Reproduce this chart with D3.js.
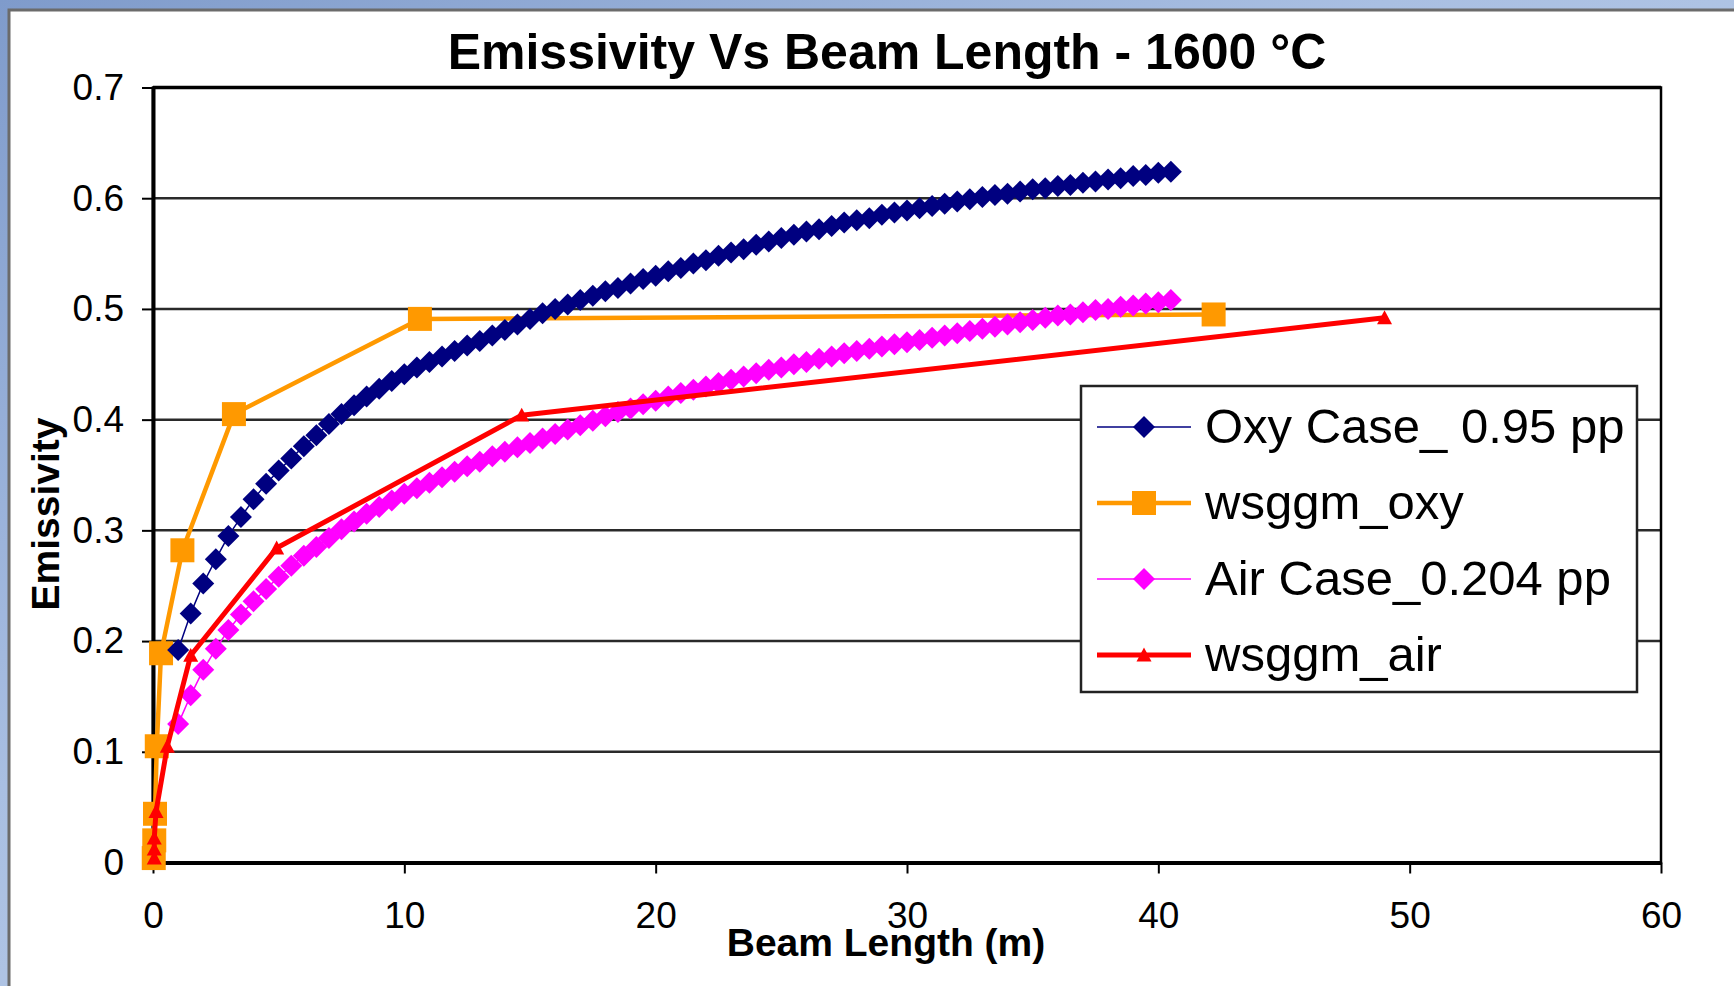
<!DOCTYPE html>
<html>
<head>
<meta charset="utf-8">
<script src="https://cdn.jsdelivr.net/npm/d3@7"></script>
<style>
  body { margin: 0; background: #fff; }
  svg { display: block; font-family: "Liberation Sans", Arial, sans-serif; }
</style>
</head>
<body>
<svg id="chart" width="1734" height="986"></svg>
<script>
// Beam length (m) sampled for the two line-by-line cases
const beamLength = [
  1, 1.5, 2, 2.5, 3, 3.5, 4, 4.5, 5, 5.5, 6, 6.5, 7, 7.5, 8, 8.5, 9, 9.5, 10, 10.5,
  11, 11.5, 12, 12.5, 13, 13.5, 14, 14.5, 15, 15.5, 16, 16.5, 17, 17.5, 18, 18.5, 19, 19.5, 20, 20.5,
  21, 21.5, 22, 22.5, 23, 23.5, 24, 24.5, 25, 25.5, 26, 26.5, 27, 27.5, 28, 28.5, 29, 29.5, 30, 30.5,
  31, 31.5, 32, 32.5, 33, 33.5, 34, 34.5, 35, 35.5, 36, 36.5, 37, 37.5, 38, 38.5, 39, 39.5, 40, 40.5
];

// Oxy Case_ 0.95 pp
const oxyCase = [
  0.192, 0.225, 0.252, 0.274, 0.295, 0.312, 0.328, 0.342, 0.354, 0.365, 0.376, 0.386, 0.396, 0.405, 0.413, 0.421, 0.428, 0.435, 0.441, 0.447,
  0.452, 0.457, 0.462, 0.467, 0.471, 0.476, 0.481, 0.486, 0.491, 0.496, 0.500, 0.504, 0.508, 0.512, 0.516, 0.519, 0.523, 0.527, 0.530, 0.534,
  0.537, 0.541, 0.544, 0.548, 0.551, 0.554, 0.558, 0.561, 0.564, 0.567, 0.570, 0.572, 0.575, 0.578, 0.580, 0.582, 0.585, 0.587, 0.589, 0.591,
  0.593, 0.595, 0.597, 0.599, 0.601, 0.603, 0.604, 0.606, 0.608, 0.609, 0.611, 0.612, 0.614, 0.615, 0.617, 0.618, 0.620, 0.621, 0.623, 0.624
];

// Air Case_0.204 pp
const airCase = [
  0.125, 0.151, 0.174, 0.193, 0.210, 0.224, 0.236, 0.247, 0.258, 0.268, 0.277, 0.285, 0.293, 0.301, 0.308, 0.315, 0.321, 0.327, 0.333, 0.338,
  0.343, 0.348, 0.353, 0.358, 0.362, 0.367, 0.371, 0.375, 0.379, 0.383, 0.387, 0.391, 0.395, 0.399, 0.403, 0.407, 0.410, 0.414, 0.417, 0.421,
  0.424, 0.427, 0.430, 0.433, 0.436, 0.439, 0.442, 0.445, 0.447, 0.450, 0.452, 0.455, 0.457, 0.460, 0.462, 0.464, 0.466, 0.468, 0.470, 0.472,
  0.474, 0.476, 0.478, 0.480, 0.482, 0.484, 0.486, 0.488, 0.490, 0.492, 0.494, 0.495, 0.497, 0.499, 0.500, 0.502, 0.503, 0.505, 0.506, 0.508
];

// WSGG model, oxy conditions
const wsggmOxyX = [0.03, 0.05, 0.08, 0.15, 0.32, 1.17, 3.22, 10.62, 42.2];
const wsggmOxyY = [0.004, 0.020, 0.044, 0.105, 0.189, 0.282, 0.405, 0.491, 0.495];

// WSGG model, air conditions
const wsggmAirX = [0.05, 0.05, 0.05, 0.12, 0.57, 1.5, 4.92, 14.67, 49.0];
const wsggmAirY = [0.004, 0.012, 0.022, 0.046, 0.105, 0.187, 0.284, 0.404, 0.492];

const xTicks = [0, 10, 20, 30, 40, 50, 60];
const yTicks = [0, 0.1, 0.2, 0.3, 0.4, 0.5, 0.6, 0.7];
const yTickLabels = ["0", "0.1", "0.2", "0.3", "0.4", "0.5", "0.6", "0.7"];

const seriesNames = ["Oxy Case_ 0.95 pp", "wsggm_oxy", "Air Case_0.204 pp", "wsggm_air"];

const W = 1734, H = 986;
const plot = { left: 153, right: 1661, top: 87.5, bottom: 862.5 };

const svg = d3.select("#chart");

// window backdrop around the white sheet
const defs = svg.append("defs");
const grad = defs.append("linearGradient").attr("id", "backdrop")
  .attr("x1", 0).attr("y1", 0).attr("x2", 1).attr("y2", 1);
grad.append("stop").attr("offset", 0).attr("stop-color", "#7f9bcb");
grad.append("stop").attr("offset", 0.4).attr("stop-color", "#a9bfe2");
grad.append("stop").attr("offset", 1).attr("stop-color", "#c9d8ee");
svg.append("rect").attr("width", W).attr("height", H).attr("fill", "url(#backdrop)");
svg.append("rect").attr("x", 9).attr("y", 10).attr("width", W).attr("height", H)
  .attr("fill", "#fff").attr("stroke", "#6b6b6b").attr("stroke-width", 3);

const x = d3.scaleLinear().domain([0, 60]).range([plot.left, plot.right]);
const y = d3.scaleLinear().domain([0, 0.7]).range([plot.bottom, plot.top]);

// horizontal gridlines
svg.append("g").selectAll("line").data(yTicks.slice(1, -1)).join("line")
  .attr("x1", plot.left).attr("x2", plot.right)
  .attr("y1", d => y(d)).attr("y2", d => y(d))
  .attr("stroke", "#2a2a2a").attr("stroke-width", 2.5);

// plot frame
svg.append("rect")
  .attr("x", plot.left).attr("y", plot.top)
  .attr("width", plot.right - plot.left).attr("height", plot.bottom - plot.top)
  .attr("fill", "none").attr("stroke", "#000").attr("stroke-width", 2.5);
svg.append("line").attr("x1", plot.left).attr("x2", plot.right)
  .attr("y1", plot.top).attr("y2", plot.top).attr("stroke", "#000").attr("stroke-width", 3.5);

// axes
const yAxis = d3.axisLeft(y).tickValues(yTicks).tickSize(11).tickSizeOuter(0).tickPadding(18)
  .tickFormat((d, i) => yTickLabels[i]);
const gy = svg.append("g").attr("transform", `translate(${plot.left},0)`).call(yAxis);
const xAxis = d3.axisBottom(x).tickValues(xTicks).tickSize(11).tickSizeOuter(0).tickPadding(28)
  .tickFormat(d3.format("d"));
const gx = svg.append("g").attr("transform", `translate(0,${plot.bottom})`).call(xAxis);
[gx, gy].forEach(g => {
  g.select(".domain").attr("stroke", "#000").attr("stroke-width", 4);
  g.selectAll(".tick line").attr("stroke", "#000").attr("stroke-width", 2);
  g.selectAll(".tick text").attr("fill", "#000").attr("font-size", 37)
    .attr("font-family", "'Liberation Sans', Arial, sans-serif");
});

// marker shapes
const diamond = r => `M0,${-r}L${r},0L0,${r}L${-r},0Z`;
const square = r => `M${-r},${-r}H${r}V${r}H${-r}Z`;
const triangle = r => `M0,${-r}L${r},${r * 0.85}L${-r},${r * 0.85}Z`;

const line = d3.line().x(d => x(d[0])).y(d => y(d[1]));

const series = [
  { name: seriesNames[1], pts: wsggmOxyX.map((v, i) => [v, wsggmOxyY[i]]), color: "#ff9900", width: 4.5, shape: square(12) },
  { name: seriesNames[0], pts: beamLength.map((v, i) => [v, oxyCase[i]]), color: "#000080", width: 1.5, shape: diamond(11) },
  { name: seriesNames[2], pts: beamLength.map((v, i) => [v, airCase[i]]), color: "#ff00ff", width: 1.5, shape: diamond(11) },
  { name: seriesNames[3], pts: wsggmAirX.map((v, i) => [v, wsggmAirY[i]]), color: "#ff0000", width: 5, shape: triangle(7.5) }
];

series.forEach(s => {
  const g = svg.append("g");
  g.append("path").attr("d", line(s.pts)).attr("fill", "none")
    .attr("stroke", s.color).attr("stroke-width", s.width).attr("stroke-linejoin", "round");
  g.selectAll("path.mk").data(s.pts).join("path").attr("class", "mk")
    .attr("d", s.shape).attr("transform", d => `translate(${x(d[0])},${y(d[1])})`)
    .attr("fill", s.color);
});

// legend
const legend = svg.append("g");
legend.append("rect").attr("x", 1081).attr("y", 386).attr("width", 556).attr("height", 306)
  .attr("fill", "#fff").attr("stroke", "#222").attr("stroke-width", 2.5);
const legendOrder = [series[1], series[0], series[2], series[3]];
const rowY = [427, 503, 579, 655];
legendOrder.forEach((s, i) => {
  const g = legend.append("g").attr("transform", `translate(0,${rowY[i]})`);
  g.append("line").attr("x1", 1097).attr("x2", 1191).attr("y1", 0).attr("y2", 0)
    .attr("stroke", s.color).attr("stroke-width", s.width);
  g.append("path").attr("d", s.shape).attr("transform", "translate(1144,0)").attr("fill", s.color);
  g.append("text").attr("x", 1205).attr("y", 16).attr("font-size", 49).attr("fill", "#000")
    .text(s.name);
});

// titles
svg.append("text").attr("x", 887).attr("y", 69).attr("text-anchor", "middle")
  .attr("font-size", 50).attr("font-weight", "bold").attr("fill", "#000")
  .text("Emissivity Vs Beam Length - 1600 °C");
svg.append("text").attr("x", 886).attr("y", 956).attr("text-anchor", "middle")
  .attr("font-size", 39).attr("font-weight", "bold").attr("fill", "#000")
  .text("Beam Length (m)");
svg.append("text").attr("transform", "translate(59,514) rotate(-90)").attr("text-anchor", "middle")
  .attr("font-size", 39).attr("font-weight", "bold").attr("fill", "#000")
  .text("Emissivity");
</script>
</body>
</html>
